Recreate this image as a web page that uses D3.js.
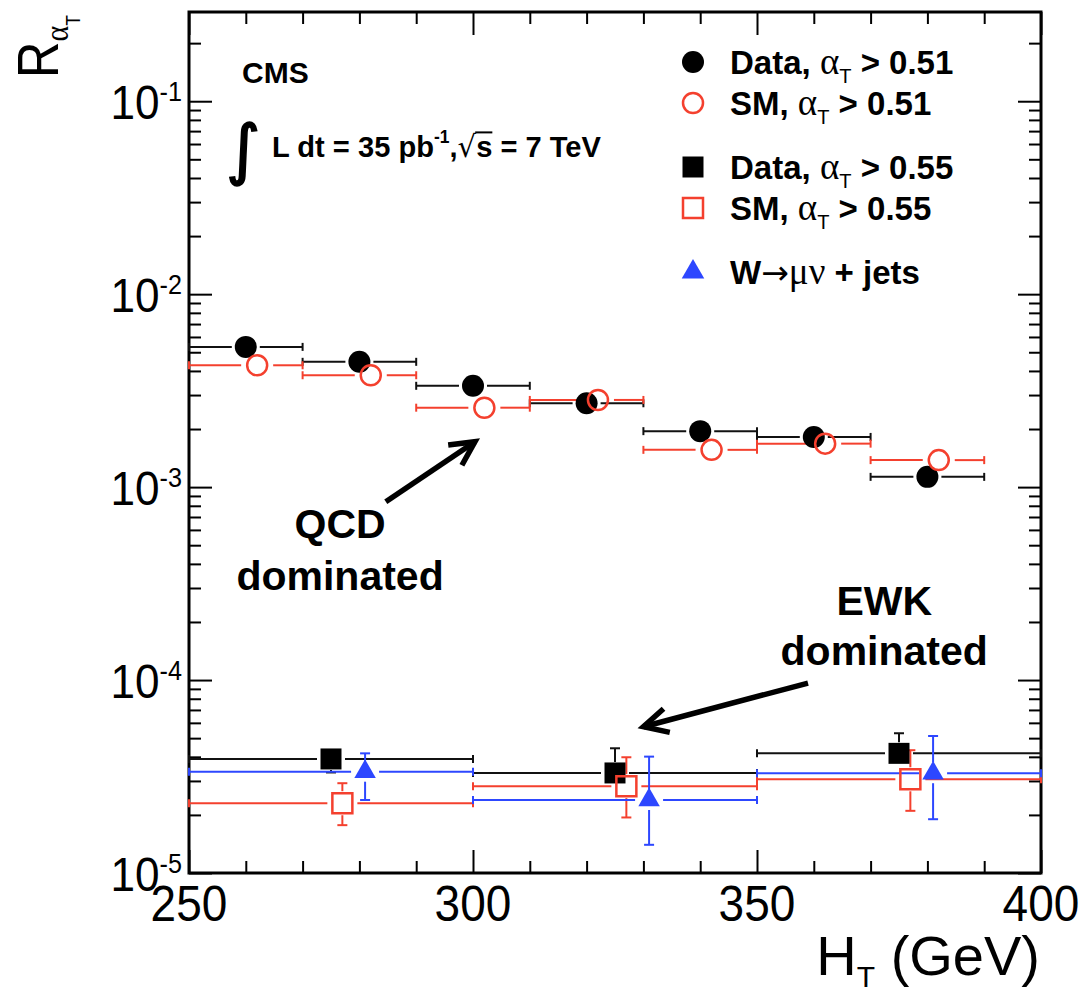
<!DOCTYPE html>
<html>
<head>
<meta charset="utf-8">
<script src="https://cdn.jsdelivr.net/npm/d3@7"></script>
<style>
  html, body { margin: 0; padding: 0; background: #fff; }
  svg { display: block; }
</style>
</head>
<body>
<svg id="chart" width="1079" height="994"></svg>
<script>
// ---- H_T binning (GeV) ----
const binEdgesLoose = [250, 270, 290, 310, 330, 350, 370, 390];
const binEdgesTight = [250, 300, 350, 400];

// ---- R_alphaT, alphaT > 0.51 ----
const dataLoose = [5.33e-3, 4.46e-3, 3.35e-3, 2.72e-3, 1.95e-3, 1.82e-3, 1.13e-3];
const smLoose   = [4.28e-3, 3.80e-3, 2.58e-3, 2.83e-3, 1.56e-3, 1.68e-3, 1.38e-3];

// ---- R_alphaT, alphaT > 0.55 (value, lower edge, upper edge) ----
const dataTight   = [3.90e-5, 3.30e-5, 4.17e-5];
const dataTightLo = [3.32e-5, 2.95e-5, 3.70e-5];
const dataTightHi = [4.35e-5, 4.43e-5, 5.30e-5];
const smTight     = [2.30e-5, 2.82e-5, 3.06e-5];
const smTightLo   = [1.77e-5, 1.94e-5, 2.10e-5];
const smTightHi   = [2.92e-5, 3.98e-5, 4.33e-5];

// ---- W -> mu nu + jets control sample ----
const wmunu   = [3.35e-5, 2.39e-5, 3.29e-5];
const wmunuLo = [2.39e-5, 1.40e-5, 1.90e-5];
const wmunuHi = [4.17e-5, 4.01e-5, 5.13e-5];

// ---- axis ticks ----
const xTicks = [250, 300, 350, 400];
const xTickLabels = ["250", "300", "350", "400"];
const yTicks = [1e-5, 1e-4, 1e-3, 1e-2, 1e-1];
const yTickExponents = ["-5", "-4", "-3", "-2", "-1"];

// ---- annotation text anchors (H_T, R) ----
const qcdLabel = { ht: 276.6, lines: ["QCD", "dominated"], r: [5.45e-4, 2.93e-4] };
const ewkLabel = { ht: 372.4, lines: ["EWK", "dominated"], r: [2.17e-4, 1.20e-4] };
const qcdArrow = { from: [284.65, 8.40e-4], to: [300.35, 1.72e-3] };
const ewkArrow = { from: [358.98, 9.65e-5], to: [330.0, 5.73e-5] };

// ---------------------------------------------------------------
const SANS = "'Liberation Sans', Arial, Helvetica, sans-serif";
const SERIF = "'Liberation Serif', 'Times New Roman', serif";
const DEJAVU = "'DejaVu Sans', sans-serif";
const RED = "#f4402e";
const BLUE = "#2d47ff";
const INK = "#111";

const svg = d3.select("#chart");
svg.append("rect").attr("width", 1079).attr("height", 994).attr("fill", "#fff");

const plot = { left: 189, right: 1041, top: 12, bottom: 873 };
const x = d3.scaleLinear().domain([250, 400]).range([plot.left, plot.right]);
const y = d3.scaleLog().domain([1e-5, 0.29]).range([plot.bottom, plot.top]);

// Text built from consecutive pieces (sub/superscripts, mixed fonts)
function rich(parent, parts, opt) {
  const o = Object.assign({ anchor: "start", rotate: 0, sx: 1 }, opt);
  const g = parent.append("g");
  const inner = g.append("g");
  let cx = 0;
  parts.forEach(p => {
    cx += (p.pre || 0);
    const t = inner.append("text")
      .attr("x", cx).attr("y", p.dy || 0)
      .attr("font-family", p.family || SANS)
      .attr("font-size", p.size)
      .attr("font-weight", p.weight || "normal")
      .attr("fill", p.color || "#000")
      .style("white-space", "pre")
      .text(p.t);
    const w = t.node().getComputedTextLength();
    if (p.overline) {
      inner.append("line")
        .attr("x1", cx - 1).attr("x2", cx + w)
        .attr("y1", (p.dy || 0) - p.size * 0.82).attr("y2", (p.dy || 0) - p.size * 0.82)
        .attr("stroke", "#000").attr("stroke-width", 2);
    }
    cx += w + (p.dx || 0);
  });
  const shift = o.anchor === "end" ? -cx : o.anchor === "middle" ? -cx / 2 : 0;
  inner.attr("transform", `scale(${o.sx},1) translate(${shift},0)`);
  g.attr("transform", `translate(${o.x},${o.y}) rotate(${o.rotate})`);
  return g;
}

// ---- ticks on all four sides ----
function ticks(gen, tr) {
  const g = svg.append("g").attr("transform", tr).call(gen);
  g.select(".domain").remove();
  g.selectAll(".tick text").remove();
  g.selectAll(".tick line").attr("stroke", "#000").attr("stroke-width", 2);
}
const xMinor = d3.range(260, 400, 10).filter(v => v % 50 !== 0);
const yMinor = [];
[1e-5, 1e-4, 1e-3, 1e-2, 1e-1].forEach(d => {
  for (let k = 2; k <= 9; k++) { const v = d * k; if (v <= 0.29) yMinor.push(v); }
});
const nf = () => "";
ticks(d3.axisBottom(x).tickValues(xTicks).tickSize(-23).tickFormat(nf), `translate(0,${plot.bottom})`);
ticks(d3.axisBottom(x).tickValues(xMinor).tickSize(-12).tickFormat(nf), `translate(0,${plot.bottom})`);
ticks(d3.axisTop(x).tickValues(xTicks).tickSize(-23).tickFormat(nf), `translate(0,${plot.top})`);
ticks(d3.axisTop(x).tickValues(xMinor).tickSize(-12).tickFormat(nf), `translate(0,${plot.top})`);
ticks(d3.axisLeft(y).tickValues(yTicks).tickSize(-23).tickFormat(nf), `translate(${plot.left},0)`);
ticks(d3.axisLeft(y).tickValues(yMinor).tickSize(-12).tickFormat(nf), `translate(${plot.left},0)`);
ticks(d3.axisRight(y).tickValues(yTicks).tickSize(-23).tickFormat(nf), `translate(${plot.right},0)`);
ticks(d3.axisRight(y).tickValues(yMinor).tickSize(-12).tickFormat(nf), `translate(${plot.right},0)`);

// frame
svg.append("rect")
  .attr("x", plot.left).attr("y", plot.top)
  .attr("width", plot.right - plot.left).attr("height", plot.bottom - plot.top)
  .attr("fill", "none").attr("stroke", "#000").attr("stroke-width", 3);

// ---- tick labels ----
xTicks.forEach((v, i) => {
  rich(svg, [{ t: xTickLabels[i], size: 50 }], { x: x(v), y: 921, anchor: "middle", sx: 0.92 });
});
yTicks.forEach((v, i) => {
  rich(svg, [
    { t: "10", size: 49 },
    { t: yTickExponents[i], size: 28, dy: -18 }
  ], { x: 182, y: y(v) + 18, anchor: "end", sx: 0.9 });
});

// ---- axis titles ----
rich(svg, [
  { t: "H", size: 56 },
  { t: "T", size: 30, dy: 12 },
  { t: " (GeV)", size: 56 }
], { x: 1040, y: 975, anchor: "end" });

rich(svg, [
  { t: "R", size: 58 },
  { t: "α", size: 34, dy: 10, family: SERIF },
  { t: "T", size: 20, dy: 22 }
], { x: 58, y: 15, anchor: "end", rotate: -90, sx: 0.88 });

// ---- error bars ----
const layer = svg.append("g");
function hbar(xlo, xhi, xc, yv, gap, color) {
  const px = x(xc), py = y(yv), a = x(xlo), b = x(xhi);
  const segs = [];
  if (px - gap > a) segs.push([a, px - gap]);
  if (px + gap < b) segs.push([px + gap, b]);
  segs.forEach(s => layer.append("line")
    .attr("x1", s[0]).attr("x2", s[1]).attr("y1", py).attr("y2", py)
    .attr("stroke", color).attr("stroke-width", 2));
  [a, b].forEach(e => layer.append("line")
    .attr("x1", e).attr("x2", e).attr("y1", py - 4).attr("y2", py + 4)
    .attr("stroke", color).attr("stroke-width", 2));
}
function vbar(xc, yv, ylo, yhi, gapUp, gapDn, color) {
  const px = x(xc), py = y(yv);
  const top = y(yhi), bot = y(ylo);
  if (top < py - gapUp) {
    layer.append("line").attr("x1", px).attr("x2", px).attr("y1", py - gapUp).attr("y2", top)
      .attr("stroke", color).attr("stroke-width", 2);
    layer.append("line").attr("x1", px - 5).attr("x2", px + 5).attr("y1", top).attr("y2", top)
      .attr("stroke", color).attr("stroke-width", 2);
  }
  if (bot > py + gapDn) {
    layer.append("line").attr("x1", px).attr("x2", px).attr("y1", py + gapDn).attr("y2", bot)
      .attr("stroke", color).attr("stroke-width", 2);
    layer.append("line").attr("x1", px - 5).attr("x2", px + 5).attr("y1", bot).attr("y2", bot)
      .attr("stroke", color).attr("stroke-width", 2);
  }
}

// marker positions inside each bin (GeV shift from bin centre)
const shiftData = 0, shiftSM = 2, shiftW = 6;
const centre = (edges, i) => (edges[i] + edges[i + 1]) / 2;

dataLoose.forEach((v, i) => hbar(binEdgesLoose[i], binEdgesLoose[i + 1], centre(binEdgesLoose, i) + shiftData, v, 14, INK));
smLoose.forEach((v, i) => hbar(binEdgesLoose[i], binEdgesLoose[i + 1], centre(binEdgesLoose, i) + shiftSM, v, 16, RED));

dataTight.forEach((v, i) => {
  const c = centre(binEdgesTight, i) + shiftData;
  hbar(binEdgesTight[i], binEdgesTight[i + 1], c, v, 14, INK);
  vbar(c, v, dataTightLo[i], dataTightHi[i], 11, 11, INK);
});
smTight.forEach((v, i) => {
  const c = centre(binEdgesTight, i) + shiftSM;
  hbar(binEdgesTight[i], binEdgesTight[i + 1], c, v, 15, RED);
  vbar(c, v, smTightLo[i], smTightHi[i], 12, 12, RED);
});
wmunu.forEach((v, i) => {
  const c = centre(binEdgesTight, i) + shiftW;
  hbar(binEdgesTight[i], binEdgesTight[i + 1], c, v, 14, BLUE);
  vbar(c, v, wmunuLo[i], wmunuHi[i], 11, 10, BLUE);
});

// ---- markers ----
const circle = d3.symbol().type(d3.symbolCircle);
const square = d3.symbol().type(d3.symbolSquare);
const tri = d3.symbol().type(d3.symbolTriangle);
const mk = svg.append("g");

function drawMarkers(values, edges, shift, path, fill, stroke) {
  mk.selectAll(null).data(values).enter().append("path")
    .attr("d", path)
    .attr("transform", (v, i) => `translate(${x(centre(edges, i) + shift)},${y(v)})`)
    .attr("fill", fill)
    .attr("stroke", stroke)
    .attr("stroke-width", stroke === "none" ? 0 : 2.5);
}
drawMarkers(dataLoose, binEdgesLoose, shiftData, circle.size(Math.PI * 11 * 11)(), "#000", "none");
drawMarkers(smLoose, binEdgesLoose, shiftSM, circle.size(Math.PI * 10 * 10)(), "none", RED);
drawMarkers(dataTight, binEdgesTight, shiftData, square.size(21 * 21)(), "#000", "none");
drawMarkers(smTight, binEdgesTight, shiftSM, square.size(20 * 20)(), "none", RED);
drawMarkers(wmunu, binEdgesTight, shiftW, tri.size(200)(), BLUE, "none");

// ---- annotations ----
[qcdLabel, ewkLabel].forEach(a => {
  a.lines.forEach((line, k) => {
    svg.append("text")
      .attr("x", x(a.ht)).attr("y", y(a.r[k]))
      .attr("text-anchor", "middle")
      .attr("font-family", SANS).attr("font-weight", "bold").attr("font-size", 41)
      .text(line);
  });
});
function arrow(a) {
  const x0 = x(a.from[0]), y0 = y(a.from[1]), x1 = x(a.to[0]), y1 = y(a.to[1]);
  svg.append("line").attr("x1", x0).attr("y1", y0).attr("x2", x1).attr("y2", y1)
    .attr("stroke", "#000").attr("stroke-width", 5.5);
  const ang = Math.atan2(y0 - y1, x0 - x1);
  const L = 27, h = 27 * Math.PI / 180;
  const p1 = [x1 + L * Math.cos(ang + h), y1 + L * Math.sin(ang + h)];
  const p2 = [x1 + L * Math.cos(ang - h), y1 + L * Math.sin(ang - h)];
  svg.append("path")
    .attr("d", `M${p1[0]},${p1[1]}L${x1},${y1}L${p2[0]},${p2[1]}`)
    .attr("fill", "none").attr("stroke", "#000").attr("stroke-width", 5.5)
    .attr("stroke-linejoin", "miter").attr("stroke-linecap", "butt");
}
arrow(qcdArrow);
arrow(ewkArrow);

// ---- CMS label and luminosity ----
svg.append("text").attr("x", 242).attr("y", 83)
  .attr("font-family", SANS).attr("font-weight", "bold").attr("font-size", 30).text("CMS");
svg.append("text").attr("x", 226).attr("y", 172)
  .attr("font-family", DEJAVU).attr("font-size", 66)
  .attr("stroke", "#000").attr("stroke-width", 1.6)
  .text("∫");
rich(svg, [
  { t: "L dt = 35 pb", size: 30, weight: "bold" },
  { t: "-1", size: 18, weight: "bold", dy: -14 },
  { t: ",", size: 30, weight: "bold" },
  { t: "√", size: 30, family: DEJAVU },
  { t: "s", size: 30, weight: "bold", overline: true },
  { t: " = 7 TeV", size: 30, weight: "bold" }
], { x: 272, y: 157, sx: 0.97 });

// ---- legend ----
const legend = svg.append("g");
const legendX = 693, legendTextX = 730;
const legendRows = [
  { cy: 62, path: circle.size(Math.PI * 11 * 11)(), fill: "#000", stroke: "none",
    parts: [{ t: "Data, ", weight: "bold" }, { t: "α", family: SERIF }, { t: "T", sub: true }, { t: " > 0.51", weight: "bold" }] },
  { cy: 103, path: circle.size(Math.PI * 10 * 10)(), fill: "none", stroke: RED,
    parts: [{ t: "SM, ", weight: "bold" }, { t: "α", family: SERIF }, { t: "T", sub: true }, { t: " > 0.51", weight: "bold" }] },
  { cy: 167, path: square.size(21 * 21)(), fill: "#000", stroke: "none",
    parts: [{ t: "Data, ", weight: "bold" }, { t: "α", family: SERIF }, { t: "T", sub: true }, { t: " > 0.55", weight: "bold" }] },
  { cy: 208, path: square.size(20 * 20)(), fill: "none", stroke: RED,
    parts: [{ t: "SM, ", weight: "bold" }, { t: "α", family: SERIF }, { t: "T", sub: true }, { t: " > 0.55", weight: "bold" }] },
  { cy: 272, path: tri.size(220)(), fill: BLUE, stroke: "none",
    parts: [{ t: "W", weight: "bold" }, { t: "→", family: DEJAVU }, { t: "μν", family: SERIF }, { t: " + jets", weight: "bold" }] }
];
legendRows.forEach(r => {
  legend.append("path").attr("d", r.path)
    .attr("transform", `translate(${legendX},${r.cy})`)
    .attr("fill", r.fill).attr("stroke", r.stroke)
    .attr("stroke-width", r.stroke === "none" ? 0 : 2.5);
  rich(legend, r.parts.map(p => p.sub
      ? { t: p.t, size: 20, dy: 9 }
      : { t: p.t, size: p.family === SERIF ? 37 : 33, weight: p.weight || "normal", family: p.family || SANS }),
    { x: legendTextX, y: r.cy + 12 });
});
</script>
</body>
</html>
